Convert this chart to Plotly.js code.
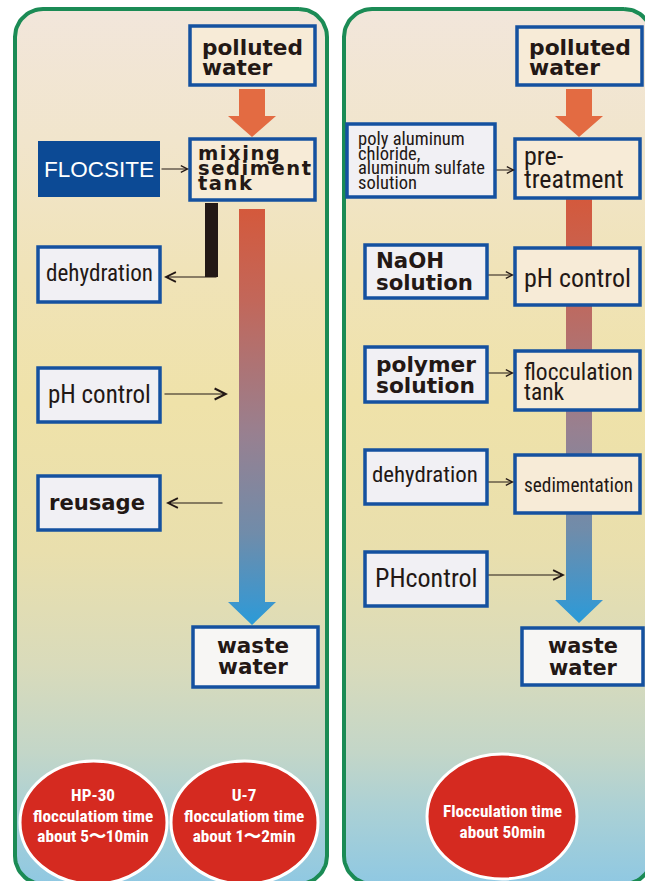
<!DOCTYPE html>
<html>
<head>
<meta charset="utf-8">
<script src="https://cdn.plot.ly/plotly-3.0.1.min.js"></script>
<style>html,body{margin:0;padding:0;background:#ffffff;}#chart{width:645px;height:881px;}</style>
</head>
<body>
<div id="chart"></div>
<script>
// ================= DATA (text content) =================
const leftFlowLabels  = [["polluted","water"], ["mixing","sediment","tank"], ["waste","water"]];
const leftSideLabels  = [["FLOCSITE"], ["dehydration"], ["pH control"], ["reusage"]];
const rightFlowLabels = [["polluted","water"], ["pre-","treatment"], ["pH control"], ["flocculation","tank"], ["sedimentation"], ["waste","water"]];
const rightSideLabels = [["poly aluminum","chloride,","aluminum sulfate","solution"], ["NaOH","solution"], ["polymer","solution"], ["dehydration"], ["PHcontrol"]];
const timeLabels      = [["HP-30","flocculatiom time","about 5〜10min"], ["U-7","flocculatiom time","about 1〜2min"], ["Flocculation time","about 50min"]];

// ================= STYLE / LAYOUT =================
const W = 645, H = 881;
const GREEN = '#1b8b55', BLUE = '#1551a0', INK = '#231815';
const FILLS = {beige:'#f7ebd7', grey:'#f1f0f4', white:'#f7f6f4', navy:'#0c4a95'};

const cv = document.createElement('canvas').getContext('2d');
function hasFont(name){
  const t = 'abcdefghijklmnopqrstuvwxyzABCDEFGHIJKLM0123456789';
  let res = false;
  ['monospace','serif'].forEach(g => {
    cv.font = '72px ' + g; const a = cv.measureText(t).width;
    cv.font = '72px "' + name + '", ' + g; const b = cv.measureText(t).width;
    if (Math.abs(a-b) > 0.5) res = true;
  });
  return res;
}
function pick(list){ for (const n of list) if (hasFont(n)) return '"' + n + '", sans-serif'; return 'sans-serif'; }
const condFamily = pick(["Liberation Sans Narrow","Roboto Condensed","DejaVu Sans Condensed","Noto Sans Condensed","Open Sans Condensed","Roboto"]);

const FONTS = {
  wide:   {family:'"DejaVu Sans", Verdana, sans-serif', weight:'bold', color:INK},
  cond:   {family:condFamily, weight:'normal', color:INK},
  arial:  {family:'"Liberation Sans", Arial, sans-serif', weight:'normal', color:'#ffffff'},
  circle: {family:condFamily, weight:'bold', color:'#ffffff'}
};
const BG_SCALE = [[0,'#f2e6db'],[0.15,'#f1e5cc'],[0.3,'#f0e3b8'],[0.45,'#efe2a9'],[0.62,'#e9dfad'],[0.75,'#d9dbbb'],[0.85,'#c3d6c8'],[0.92,'#a9d0d6'],[1,'#8fc8e2']];
const FLOW_SCALE = [[0,'#d4593c'],[0.22,'#c2675a'],[0.54,'#988090'],[0.78,'#708caa'],[0.94,'#3f96cc'],[1,'#2a9bd8']];
const ORANGE = '#e36b42';

// panels: [x0,y0,x1,y1,radius]
const panels = [[15,9,327,884,28],[344,9,652,884,28]];
// big arrows: centre x, top, head start, tip, shaft half width, head half width
const orangeArrows = [[252,89,116,137,13,24],[579,89,116,137,13,24]];
const flowArrows   = [[252,209,602,625,13,24],[579,198,600,623,13,24]];

// box geometry/style, paired with the label arrays above
const boxes = [
  {lines:leftFlowLabels[0], box:[190,26,315,85],  fill:'beige', font:'wide', align:'left',   tx:201, base:55,  gap:20,   w:101, max:23},
  {lines:leftFlowLabels[1], box:[190,139,315,200],fill:'beige', font:'wide', align:'left',   tx:197, base:160, gap:15,   w:113, max:19.5, spread:true},
  {lines:leftFlowLabels[2], box:[193,627,318,687],fill:'white', font:'wide', align:'center', tx:253, base:653, gap:21,   w:72,  max:23},
  {lines:leftSideLabels[0], box:[38,141,160,197], fill:'navy',  font:'arial',align:'center', tx:99,  base:177, gap:0,    w:110, max:23, noBorder:true},
  {lines:leftSideLabels[1], box:[38,247,160,302], fill:'grey',  font:'cond', align:'center', tx:99,  base:282, gap:0,    w:107, max:25},
  {lines:leftSideLabels[2], box:[38,368,160,422], fill:'grey',  font:'cond', align:'center', tx:99,  base:403, gap:0,    w:106, max:25},
  {lines:leftSideLabels[3], box:[38,476,160,530], fill:'grey',  font:'wide', align:'center', tx:97,  base:510, gap:0,    w:96,  max:22},
  {lines:rightFlowLabels[0],box:[517,27,642,85],  fill:'beige', font:'wide', align:'left',   tx:528, base:55,  gap:20,   w:102, max:23},
  {lines:rightFlowLabels[1],box:[515,139,640,198],fill:'beige', font:'cond', align:'left',   tx:523, base:165, gap:23,   w:109, max:26},
  {lines:rightFlowLabels[2],box:[515,248,640,305],fill:'beige', font:'cond', align:'left',   tx:523, base:287, gap:0,    w:109, max:26},
  {lines:rightFlowLabels[3],box:[515,351,640,410],fill:'beige', font:'cond', align:'left',   tx:523, base:380, gap:20,   w:109, max:25},
  {lines:rightFlowLabels[4],box:[515,455,640,513],fill:'beige', font:'cond', align:'left',   tx:523, base:492, gap:0,    w:109, max:24},
  {lines:rightFlowLabels[5],box:[522,628,643,685],fill:'white', font:'wide', align:'center', tx:583, base:653, gap:22,   w:70,  max:23},
  {lines:rightSideLabels[0],box:[347,124,495,197],fill:'grey',  font:'cond', align:'left',   tx:357, base:145, gap:14.7, w:127, max:19},
  {lines:rightSideLabels[1],box:[365,245,487,298],fill:'grey',  font:'wide', align:'left',   tx:375, base:268, gap:22,   w:97,  max:22},
  {lines:rightSideLabels[2],box:[365,347,487,402],fill:'grey',  font:'wide', align:'left',   tx:375, base:372, gap:21,   w:100, max:22},
  {lines:rightSideLabels[3],box:[365,450,487,504],fill:'grey',  font:'cond', align:'center', tx:425, base:483, gap:0,    w:106, max:25},
  {lines:rightSideLabels[4],box:[365,552,487,606],fill:'grey',  font:'cond', align:'center', tx:426, base:587, gap:0,    w:107, max:26}
];
const circles = [
  {lines:timeLabels[0], box:[20,761,167,884],  tx:93,  base:801, gap:20.6, w:137, max:17.2},
  {lines:timeLabels[1], box:[171,761,318,884], tx:244, base:801, gap:20.6, w:137, max:17.2},
  {lines:timeLabels[2], box:[427,754,577,879], tx:502, base:817, gap:20.6, w:136, max:17.2}
];
// thin connectors: tail (x,y) -> head (x,y), head size
const connectors = [
  [160,169,189,169,1.1],[218,277,164,277,1.6],[163,394,228,394,1.8],[224,503,166,503,1.6],
  [495,170,515,170,1.1],[487,275,514,275,1.1],[487,373,514,373,1.1],[487,482,514,482,1.1],[487,575,565,575,1.6]
];
const blackBar = [205,203,218,277];

// ================= BUILD =================
function measure(text, f, size){ cv.font = (f.weight==='bold'?'bold ':'') + size + 'px ' + f.family; return cv.measureText(text).width; }
function longest(lines, f){ let best = lines[0], bw = 0; lines.forEach(l => { const w = measure(l, f, 100); if (w > bw) { bw = w; best = l; } }); return [best, bw]; }

const traces = [];
function roundRect(x0,y0,x1,y1,r){
  const xs=[], ys=[];
  const cs=[[x1-r,y0+r,-90,0],[x1-r,y1-r,0,90],[x0+r,y1-r,90,180],[x0+r,y0+r,180,270]];
  cs.forEach(c => { for(let a=c[2]; a<=c[3]; a+=5){ const t=a*Math.PI/180; xs.push(c[0]+r*Math.cos(t)); ys.push(c[1]+r*Math.sin(t)); } });
  xs.push(xs[0]); ys.push(ys[0]);
  return [xs, ys];
}
panels.forEach(p => {
  const [xs, ys] = roundRect(p[0],p[1],p[2],p[3],p[4]);
  traces.push({type:'scatter', mode:'lines', x:xs, y:ys, fill:'toself', line:{color:GREEN, width:4},
    fillgradient:{type:'vertical', colorscale:BG_SCALE, start:p[1], stop:p[3]}, hoverinfo:'skip', showlegend:false});
});
function arrowPoly(a){
  const [cx, top, hy, tip, sw, hw] = a;
  return [[cx-sw,cx+sw,cx+sw,cx+hw,cx,cx-hw,cx-sw,cx-sw],[top,top,hy,hy,tip,hy,hy,top]];
}
orangeArrows.forEach(a => { const [xs, ys] = arrowPoly(a);
  traces.push({type:'scatter', mode:'lines', x:xs, y:ys, fill:'toself', fillcolor:ORANGE, line:{width:0, color:ORANGE}, hoverinfo:'skip', showlegend:false}); });
flowArrows.forEach(a => { const [xs, ys] = arrowPoly(a);
  traces.push({type:'scatter', mode:'lines', x:xs, y:ys, fill:'toself', line:{width:0, color:'rgba(0,0,0,0)'},
    fillgradient:{type:'vertical', colorscale:FLOW_SCALE, start:a[1], stop:a[3]}, hoverinfo:'skip', showlegend:false}); });

const shapes = [];
const annotations = [];
shapes.push({type:'rect', xref:'x', yref:'y', x0:blackBar[0], y0:blackBar[1], x1:blackBar[2], y1:blackBar[3], fillcolor:INK, line:{width:0}, layer:'above'});

// one annotation per box; line pitch = 1.3 x annotation font size, glyph size set by inner spans
function addText(spec, f){
  const [lg, w100] = longest(spec.lines, f);
  let size = Math.min(spec.max, 100*spec.w/w100);
  let extra = '';
  if (spec.spread) {
    size = spec.max;
    const ls = Math.max(0, (spec.w - measure(lg, f, size)) / (lg.length - 1));
    extra = ';letter-spacing:' + ls.toFixed(2) + 'px';
  }
  const n = spec.lines.length;
  const pitchSize = n > 1 ? spec.gap / 1.3 : size;
  const txt = spec.lines.map(l => '<span style="font-size:' + size.toFixed(2) + 'px' + extra + '">' + l + '</span>').join('<br>');
  annotations.push({xref:'x', yref:'y', x:spec.tx, y:spec.base + (n-1)*spec.gap/2 - 0.35*size, text:txt, showarrow:false,
    xanchor:spec.align, yanchor:'middle', align:spec.align, borderpad:0,
    font:{family:f.family, weight:f.weight, color:f.color, size:pitchSize}});
}
boxes.forEach(b => {
  shapes.push({type:'rect', xref:'x', yref:'y', x0:b.box[0], y0:b.box[1], x1:b.box[2], y1:b.box[3], fillcolor:FILLS[b.fill],
    line:{color:BLUE, width:b.noBorder?0:3.5}, layer:'above'});
  addText(b, FONTS[b.font]);
});
circles.forEach(c => {
  shapes.push({type:'circle', xref:'x', yref:'y', x0:c.box[0], y0:c.box[1], x1:c.box[2], y1:c.box[3], fillcolor:'#d52a20',
    line:{color:'#ffffff', width:3}, layer:'above'});
  addText(Object.assign({align:'center'}, c), FONTS.circle);
});
connectors.forEach(c => {
  annotations.push({xref:'x', yref:'y', axref:'x', ayref:'y', x:c[2], y:c[3], ax:c[0], ay:c[1], text:'', showarrow:true,
    arrowhead:5, arrowsize:c[4], arrowwidth:1.2, arrowcolor:INK, standoff:0, startstandoff:0});
});

const layout = {
  width:W, height:H, margin:{l:0,r:0,t:0,b:0,pad:0},
  paper_bgcolor:'#ffffff', plot_bgcolor:'rgba(0,0,0,0)',
  xaxis:{range:[0,W], visible:false, fixedrange:true, showgrid:false, zeroline:false},
  yaxis:{range:[H,0], visible:false, fixedrange:true, showgrid:false, zeroline:false},
  showlegend:false, hovermode:false, shapes:shapes, annotations:annotations
};
Plotly.newPlot('chart', traces, layout, {displayModeBar:false, staticPlot:true});
</script>
</body>
</html>
